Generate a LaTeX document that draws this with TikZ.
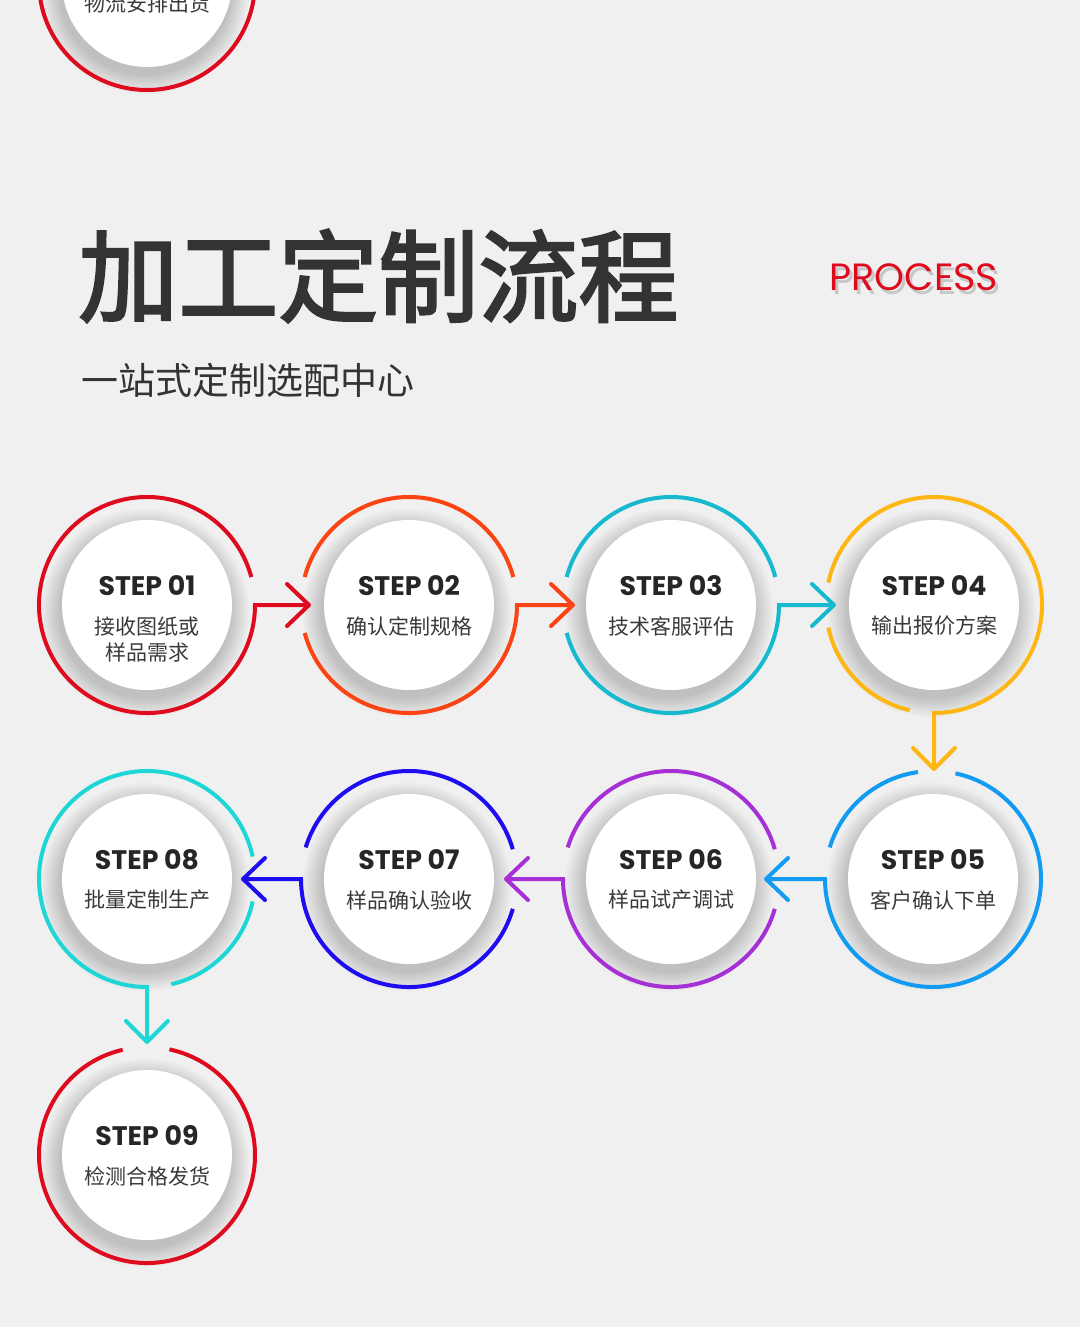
\documentclass[tikz,border=0pt]{standalone}
\usepackage{fontspec}
\newfontfamily\cjk{Noto Sans CJK SC}
\newfontfamily\cjktitle{Noto Sans CJK SC}[FakeBold=2.5]
\newfontfamily\stepfont{Poppins}
\newfontfamily\procfont{Poppins}
\usetikzlibrary{calc}
\definecolor{bg}{HTML}{F0F0F0}
\definecolor{cred}{HTML}{DE0A1E}
\definecolor{corange}{HTML}{FA4413}
\definecolor{cteal}{HTML}{17B9CF}
\definecolor{camber}{HTML}{FDB614}
\definecolor{cblue}{HTML}{129BF2}
\definecolor{cpurple}{HTML}{A630D5}
\definecolor{cdeep}{HTML}{1F0DF2}
\definecolor{ccyan}{HTML}{1ED6D6}
\definecolor{titlegray}{HTML}{333333}
\definecolor{stepgray}{HTML}{262626}
\definecolor{subgray}{HTML}{3A3A3A}
\tikzset{
  ring/.style={line width=2pt},
  chev/.style={line width=2pt, line cap=round, line join=round},
  whitedisk/.style={circle, fill=white, minimum size=85pt, inner sep=0pt},
  steplabel/.style={font=\stepfont\bfseries\fontsize{13.4pt}{14pt}\selectfont, text=stepgray, inner sep=0pt},
  sublabel/.style={font=\cjk\fontsize{10.5pt}{13pt}\selectfont, text=subgray, align=center, inner sep=0pt},
}
\newcommand\dshadow[1]{%
  \foreach \k in {1,...,12}{\fill[black, opacity=0.016] ($(#1)+(-2,-8)$) circle[radius=84+1.7*\k];}}
\begin{document}
\begin{tikzpicture}[x=0.5pt,y=0.5pt]
\useasboundingbox (0,0) rectangle (1080,-1327);
\clip (0,0) rectangle (1080,-1327);
\fill[bg] (0,0) rectangle (1080,-1327);
% centres
\coordinate (c0) at (147,18);
\coordinate (c1) at (147,-605);
\coordinate (c2) at (409,-605);
\coordinate (c3) at (671,-605);
\coordinate (c4) at (934,-605);
\coordinate (c5) at (933,-879);
\coordinate (c6) at (671,-879);
\coordinate (c7) at (409,-879);
\coordinate (c8) at (147,-879);
\coordinate (c9) at (147,-1155);
% arrow tips
\coordinate (t12) at (309,-605);
\coordinate (t23) at (573,-605);
\coordinate (t34) at (834,-605);
\coordinate (t45) at (934,-769);
\coordinate (t56) at (766,-879);
\coordinate (t67) at (506,-879);
\coordinate (t78) at (243,-879);
\coordinate (t89) at (147,-1042);
% shadows
\foreach \c in {c0,c1,c2,c3,c4,c5,c6,c7,c8,c9}{\dshadow{\c}}
% title
\node[anchor=west, inner sep=0pt, text=titlegray, font=\cjktitle\fontsize{50pt}{50pt}\selectfont] (title) at (78,-276) {加工定制流程};
\node[anchor=west, inner sep=0pt, text=titlegray, font=\cjk\fontsize{18.5pt}{18.5pt}\selectfont] (subtitle) at (81,-380) {一站式定制选配中心};
\node[inner sep=0pt, text=black!22, font=\procfont\fontsize{19pt}{19pt}\selectfont] (procshadow) at (917,-281) {PROCESS};
\node[inner sep=0pt, text=cred, font=\procfont\fontsize{19pt}{19pt}\selectfont] (proc) at (914,-277) {PROCESS};
% rings and connectors
\draw[ring, cred] (c0) circle[radius=108];
\draw[ring, cred] ($(c1)+(15:108)$) arc[start angle=15, end angle=360, radius=108] -- (t12);
\draw[chev, cred] ($(t12)+(-22,21)$) -- (t12) -- ($(t12)+(-22,-21)$);
\draw[ring, corange] ($(c2)+(15:108)$) arc[start angle=15, end angle=165, radius=108];
\draw[ring, corange] ($(c2)+(195:108)$) arc[start angle=195, end angle=360, radius=108] -- (t23);
\draw[chev, corange] ($(t23)+(-22,21)$) -- (t23) -- ($(t23)+(-22,-21)$);
\draw[ring, cteal] ($(c3)+(15:108)$) arc[start angle=15, end angle=165, radius=108];
\draw[ring, cteal] ($(c3)+(195:108)$) arc[start angle=195, end angle=360, radius=108] -- (t34);
\draw[chev, cteal] ($(t34)+(-22,21)$) -- (t34) -- ($(t34)+(-22,-21)$);
\draw[ring, camber] ($(c4)+(168:108)$) arc[start angle=168, end angle=-90, radius=108] -- (t45);
\draw[ring, camber] ($(c4)+(192:108)$) arc[start angle=192, end angle=257, radius=108];
\draw[chev, camber] ($(t45)+(-21,21)$) -- (t45) -- ($(t45)+(21,21)$);
\draw[ring, cblue] ($(c5)+(78:108)$) arc[start angle=78, end angle=-180, radius=108] -- (t56);
\draw[ring, cblue] ($(c5)+(98:108)$) arc[start angle=98, end angle=163, radius=108];
\draw[chev, cblue] ($(t56)+(22,21)$) -- (t56) -- ($(t56)+(22,-21)$);
\draw[ring, cpurple] ($(c6)+(-16:108)$) arc[start angle=-16, end angle=-180, radius=108] -- (t67);
\draw[ring, cpurple] ($(c6)+(16:108)$) arc[start angle=16, end angle=163, radius=108];
\draw[chev, cpurple] ($(t67)+(22,21)$) -- (t67) -- ($(t67)+(22,-21)$);
\draw[ring, cdeep] ($(c7)+(-16:108)$) arc[start angle=-16, end angle=-180, radius=108] -- (t78);
\draw[ring, cdeep] ($(c7)+(16:108)$) arc[start angle=16, end angle=163, radius=108];
\draw[chev, cdeep] ($(t78)+(22,21)$) -- (t78) -- ($(t78)+(22,-21)$);
\draw[ring, ccyan] ($(c8)+(12:108)$) arc[start angle=12, end angle=270, radius=108] -- (t89);
\draw[ring, ccyan] ($(c8)+(-77:108)$) arc[start angle=-77, end angle=-12, radius=108];
\draw[chev, ccyan] ($(t89)+(-21,21)$) -- (t89) -- ($(t89)+(21,21)$);
\draw[ring, cred] ($(c9)+(103:108)$) arc[start angle=103, end angle=438, radius=108];
% white disks
\foreach \i in {0,...,9}{\node[whitedisk] (s\i) at (c\i) {};}
% texts
\node[sublabel] (d0) at ($(c0)+(0,-21)$) {物流安排出货};
\node[steplabel] (l1) at ($(c1)+(0,19)$) {STEP 01};
\node[sublabel] (d1) at ($(c1)+(0,-35)$) {接收图纸或\\样品需求};
\node[steplabel] (l2) at ($(c2)+(0,19)$) {STEP 02};
\node[sublabel] (d2) at ($(c2)+(0,-21)$) {确认定制规格};
\node[steplabel] (l3) at ($(c3)+(0,19)$) {STEP 03};
\node[sublabel] (d3) at ($(c3)+(0,-21)$) {技术客服评估};
\node[steplabel] (l4) at ($(c4)+(0,19)$) {STEP 04};
\node[sublabel] (d4) at ($(c4)+(0,-21)$) {输出报价方案};
\node[steplabel] (l5) at ($(c5)+(0,19)$) {STEP 05};
\node[sublabel] (d5) at ($(c5)+(0,-21)$) {客户确认下单};
\node[steplabel] (l6) at ($(c6)+(0,19)$) {STEP 06};
\node[sublabel] (d6) at ($(c6)+(0,-21)$) {样品试产调试};
\node[steplabel] (l7) at ($(c7)+(0,19)$) {STEP 07};
\node[sublabel] (d7) at ($(c7)+(0,-21)$) {样品确认验收};
\node[steplabel] (l8) at ($(c8)+(0,19)$) {STEP 08};
\node[sublabel] (d8) at ($(c8)+(0,-21)$) {批量定制生产};
\node[steplabel] (l9) at ($(c9)+(0,19)$) {STEP 09};
\node[sublabel] (d9) at ($(c9)+(0,-21)$) {检测合格发货};
\end{tikzpicture}
\end{document}
